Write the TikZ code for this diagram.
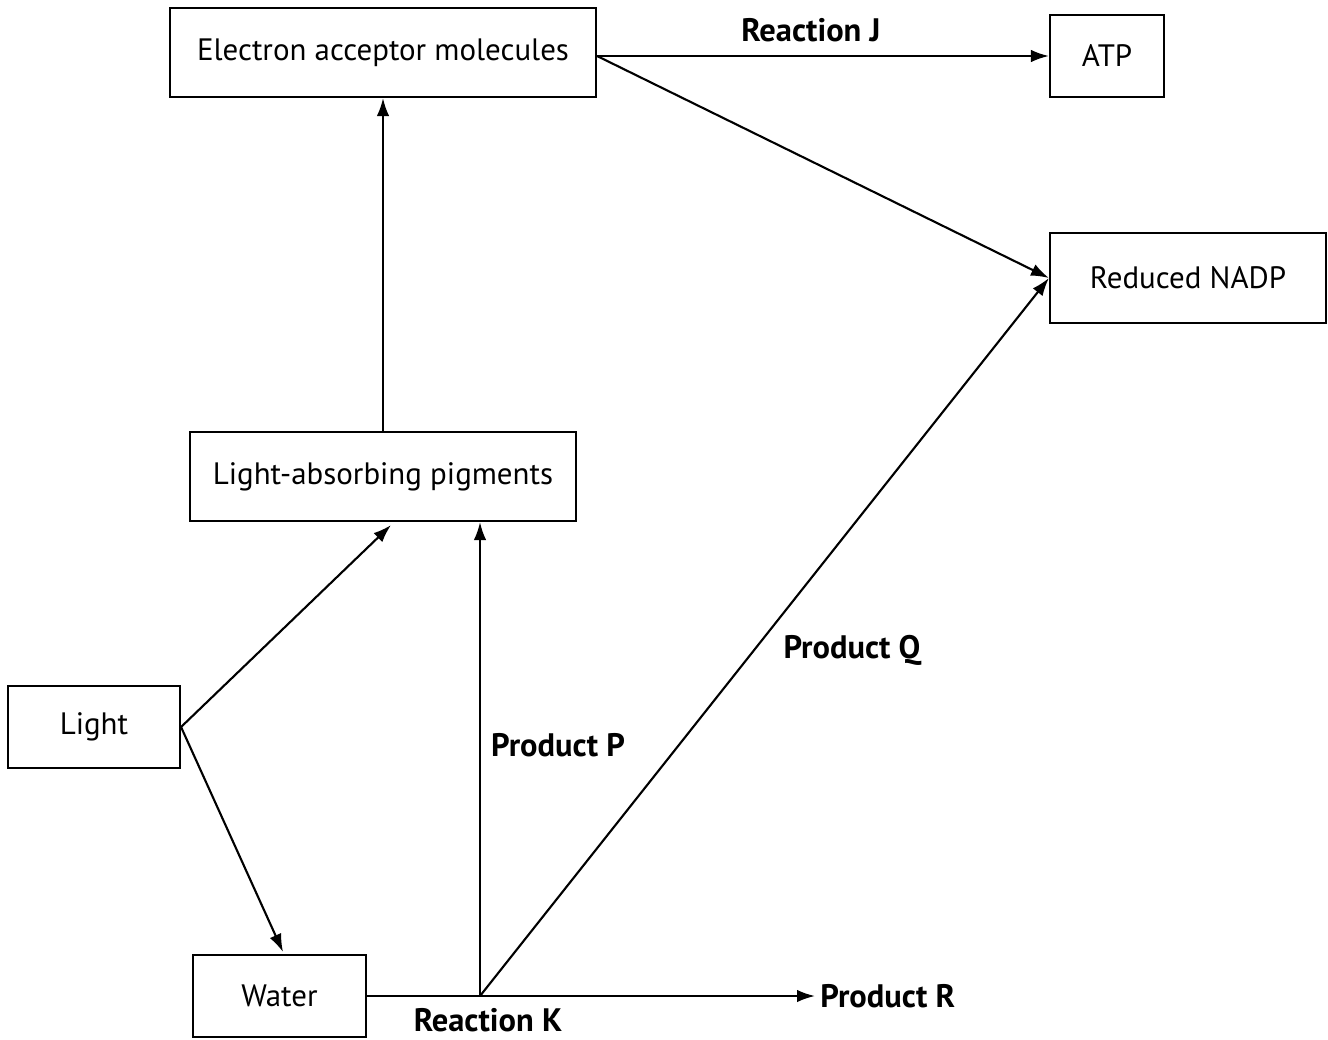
\documentclass[tikz,border=0pt]{standalone}
\usepackage{fontspec}
\setmainfont{PT Sans}
\usepackage{tikz}
\usetikzlibrary{arrows.meta,positioning}

\begin{document}
\begin{tikzpicture}[
    box/.style={draw, line width=1.2pt, inner sep=0pt, minimum height=1.7cm, font=\fontsize{17.6}{20}\selectfont},
    lbl/.style={font=\fontsize{18.5}{21}\selectfont\bfseries, inner sep=0.1cm},
    flow/.style={line width=1.2pt, -{Latex[length=0.36cm,width=0.25cm]}}
]
    \useasboundingbox (0,0) rectangle (26.56,-20.78);
    % Boxes
    \node[box, minimum width=8.52cm, minimum height=1.78cm] (eam) at (7.66,-1.05) {Electron acceptor molecules};
    \node[box, minimum width=2.28cm, minimum height=1.64cm] (atp) at (22.14,-1.12) {ATP};
    \node[box, minimum width=5.52cm, minimum height=1.8cm] (nadp) at (23.76,-5.56) {Reduced NADP};
    \node[box, minimum width=7.72cm, minimum height=1.78cm] (lap) at (7.66,-9.53) {Light-absorbing pigments};
    \node[box, minimum width=3.44cm, minimum height=1.64cm] (light) at (1.88,-14.54) {Light};
    \node[box, minimum width=3.46cm, minimum height=1.64cm] (water) at (5.59,-19.92) {Water};
    \coordinate (k) at (9.6,-19.92);
    % Labels
    \node[lbl, anchor=west] (prodR) at (16.3,-19.92) {Product R};
    \node[lbl] at (16.22,-0.6) {Reaction J};
    \node[lbl] at (11.16,-14.9) {Product P};
    \node[lbl] at (17.04,-13.0) {Product Q};
    \node[lbl] at (9.76,-20.4) {Reaction K};
    % Arrows
    \draw[flow] (eam.east |- atp.west) -- (atp.west);
    \draw[flow] (eam.east |- atp.west) -- (nadp.west);
    \draw[flow] (lap.north) -- (eam.south);
    \draw[flow] (light.east) -- ([xshift=0.16cm,yshift=-0.06cm]lap.south);
    \draw[flow] (light.east) -- ([xshift=0.07cm,yshift=0.04cm]water.north);
    \draw[flow] (water.east) -- (prodR.west);
    \draw[flow] (k) -- (k |- lap.south);
    \draw[flow] (k) -- (nadp.west);
\end{tikzpicture}
\end{document}
